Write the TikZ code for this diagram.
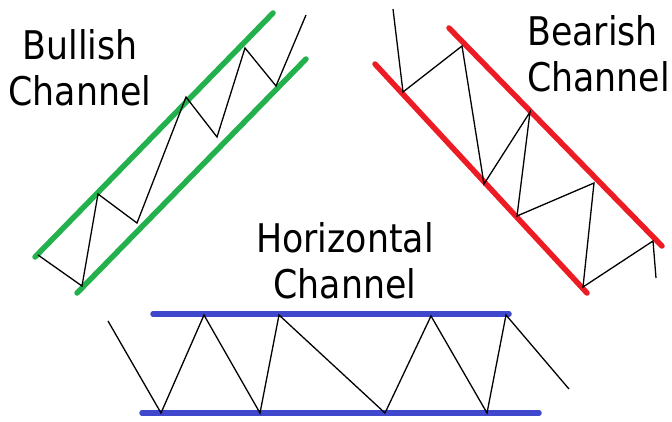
\documentclass[tikz,border=0pt]{standalone}
\usepackage{fontspec}
\usepackage{xcolor}
\newfontfamily\chfont[FakeStretch=0.88]{DejaVu Sans}
\definecolor{bullgreen}{RGB}{34,177,76}
\definecolor{bearred}{RGB}{237,28,36}
\definecolor{flatblue}{RGB}{63,72,204}
\tikzset{
  chline/.style   = {line width=5.5pt, line cap=round},
  price/.style    = {draw=black, line width=1.3pt, line join=miter},
  chtitle/.style  = {inner sep=0pt, align=center,
                     font=\chfont\fontsize{39.5}{46}\selectfont},
}

\begin{document}
\begin{tikzpicture}[x=1pt, y=-1pt]
  \useasboundingbox (0,0) rectangle (672,421);

  % Bullish channel
  \draw[chline, bullgreen] (35,257) -- (273,13);
  \draw[chline, bullgreen] (77,293) -- (306,59);
  \draw[price] (38,255) -- (82,286) -- (98,194) -- (137,223) -- (186,97)
    -- (217,137) -- (245,48) -- (276,86) -- (306,15);
  \node[chtitle, anchor=north] (bull) at (80,29.5) {Bullish\\Channel};

  % Bearish channel
  \draw[chline, bearred] (449,28) -- (662,246);
  \draw[chline, bearred] (375,64) -- (587,293);
  \draw[price] (393,9) -- (403,92) -- (462,46) -- (484,184) -- (530,112)
    -- (517,216) -- (594,183) -- (583,287) -- (653,241) -- (656,278);
  \node[chtitle, align=left, anchor=north west] (bear) at (527,15) {Bearish\\Channel};

  % Horizontal channel
  \draw[chline, flatblue] (153,314) -- (509,314);
  \draw[chline, flatblue] (142,413) -- (539,413);
  \draw[price] (108,321) -- (161,413) -- (204,315) -- (260,413) -- (279,315)
    -- (385,413) -- (431,316) -- (487,413) -- (506,315) -- (569,389);
  \node[chtitle, anchor=north] (horiz) at (345,222.5) {Horizontal\\Channel};
\end{tikzpicture}
\end{document}
